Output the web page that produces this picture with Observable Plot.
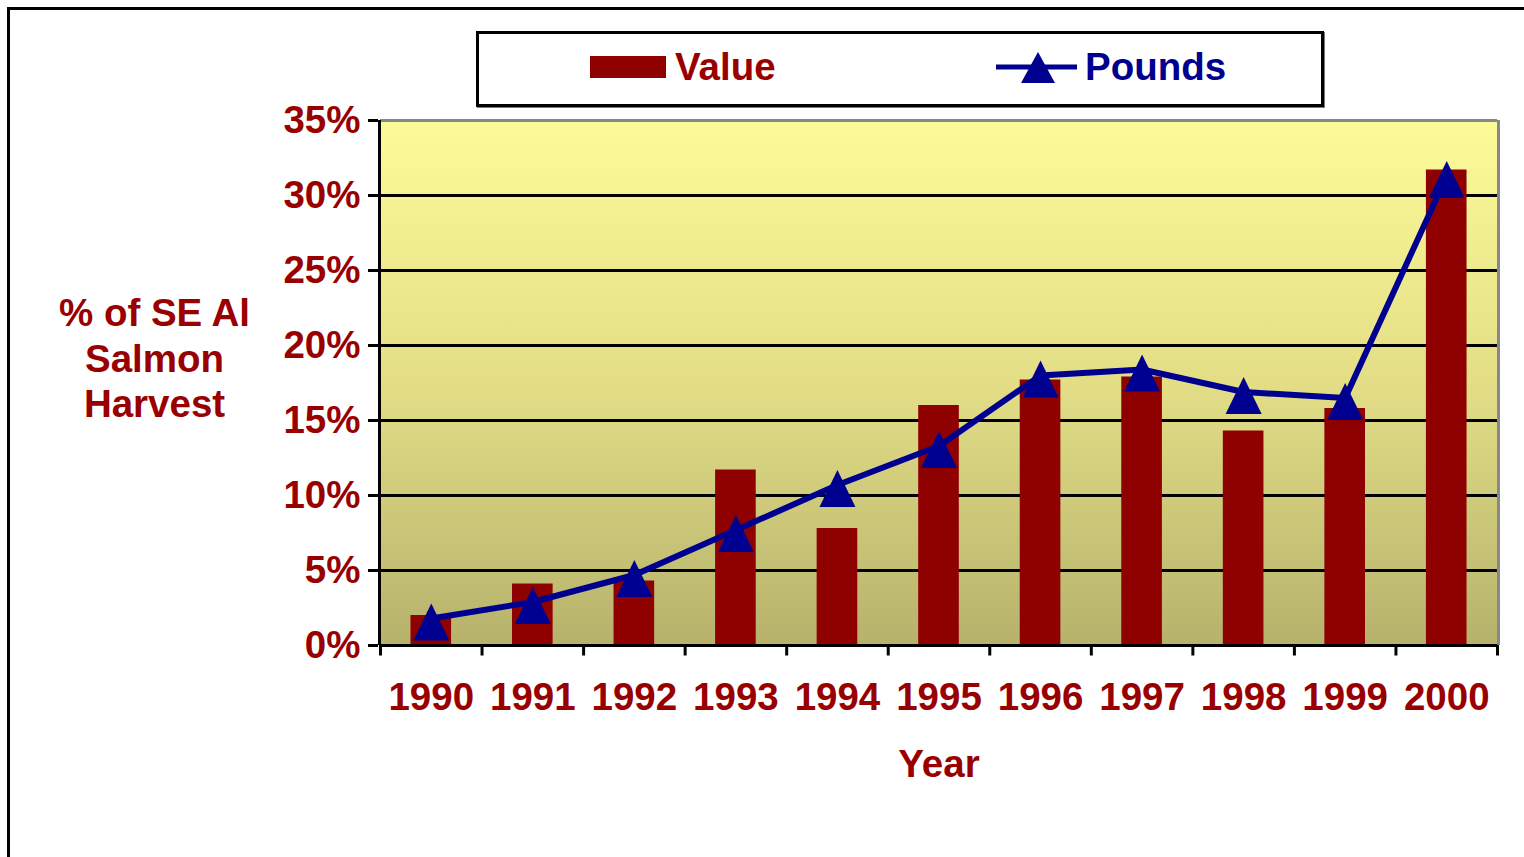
<!DOCTYPE html>
<html>
<head>
<meta charset="utf-8">
<script src="https://cdn.jsdelivr.net/npm/d3@7"></script>
<script src="https://cdn.jsdelivr.net/npm/@observablehq/plot@0.6"></script>
<style>
  html, body { margin: 0; padding: 0; background: #fff; overflow: hidden; }
  #page { position: relative; width: 1524px; height: 857px; overflow: hidden; font-family: "Liberation Sans", Arial, sans-serif; font-weight: bold; }
  #border { position: absolute; left: 7px; top: 7px; width: 1700px; height: 1000px; border: 3px solid #000; }
  #chart { position: absolute; left: 0; top: 0; }
  #legend { position: absolute; left: 476px; top: 31px; width: 842px; height: 70px; border: 3px solid #000; box-shadow: 1px 1px 0 #777; background: #fff; }
  #legend svg { position: absolute; left: 0; top: 0; }
</style>
</head>
<body>
<div id="page">
  <div id="border"></div>
  <div id="chart"></div>
  <div id="legend"></div>
</div>
<script>
// ---- data ----
const years = ["1990","1991","1992","1993","1994","1995","1996","1997","1998","1999","2000"];
const valuePct = [2.0, 4.1, 4.3, 11.7, 7.8, 16.0, 17.7, 17.9, 14.3, 15.8, 31.7];
const poundsPct = [1.8, 2.9, 4.7, 7.7, 10.7, 13.3, 18.0, 18.4, 16.9, 16.5, 31.3];
const yTicks = [0, 5, 10, 15, 20, 25, 30, 35];
const seriesNames = ["Value", "Pounds"];
const xTitle = "Year";
const yTitle = "% of SE Al\nSalmon\nHarvest";

const barColor = "#8F0000";
const lineColor = "#000090";
const textRed = "#990000";

const rows = years.map((y, i) => ({year: y, value: valuePct[i], pounds: poundsPct[i]}));

// custom triangle marker (Excel-like, point sits ~40% down from apex)
const tri = {
  draw(ctx, size) {
    ctx.moveTo(0, -15);
    ctx.lineTo(18, 22);
    ctx.lineTo(-18, 22);
    ctx.closePath();
  }
};

const W = 1524, H = 857;
const mL = 380, mR = 27, mT = 120, mB = 212;
const halfStep = (W - mL - mR) / years.length / 2;

const chart = Plot.plot({
  width: W, height: H,
  marginLeft: mL, marginRight: mR, marginTop: mT, marginBottom: mB,
  style: {background: "transparent", fontFamily: "'Liberation Sans', Arial, sans-serif", fontSize: "38.5px", fontWeight: "bold", overflow: "visible"},
  x: {domain: years, paddingInner: 0.6, paddingOuter: 0.3, round: false, label: null},
  y: {domain: [0, 35], label: null},
  marks: [
    Plot.frame({fill: "url(#bgGrad)", stroke: null}),
    Plot.ruleY(yTicks.filter(t => t > 0 && t < 35), {stroke: "#000", strokeWidth: 3}),
    Plot.ruleY([35], {stroke: "#888", strokeWidth: 3}),
    Plot.ruleX([years[years.length - 1]], {dx: halfStep + 1, y1: 0, y2: 35, stroke: "#888", strokeWidth: 3}),
    Plot.barY(rows, {x: "year", y: "value", fill: barColor}),
    Plot.line(rows, {x: "year", y: "pounds", stroke: lineColor, strokeWidth: 6}),
    Plot.dot(rows, {x: "year", y: "pounds", symbol: tri, r: 10, fill: lineColor, stroke: null}),
    Plot.ruleY([0], {stroke: "#000", strokeWidth: 3}),
    Plot.ruleX([years[0]], {dx: -halfStep - 1, y1: 0, y2: 35, stroke: "#000", strokeWidth: 3}),
    // x boundary ticks
    Plot.ruleX(years, {dx: -halfStep, y1: 0, y2: -0.7, stroke: "#000", strokeWidth: 3}),
    Plot.ruleX([years[years.length - 1]], {dx: halfStep, y1: 0, y2: -0.7, stroke: "#000", strokeWidth: 3}),
    Plot.axisY(yTicks, {tickSize: 10, tickPadding: 8, stroke: "#000", strokeWidth: 3, fill: textRed, tickFormat: d => d + "%", label: null, dx: -2}),
    Plot.axisX({tickSize: 0, tickPadding: 37, fill: textRed, label: null}),
    Plot.text([xTitle], {frameAnchor: "bottom", dy: 119, fill: textRed, lineAnchor: "middle"}),
    Plot.text([yTitle], {frameAnchor: "left", dx: -226, dy: -26, fill: textRed, textAnchor: "middle", lineAnchor: "middle", lineHeight: 1.18})
  ]
});

d3.select(chart).insert("defs", ":first-child").html(
  `<linearGradient id="bgGrad" x1="0" y1="0" x2="0" y2="1">
     <stop offset="0" stop-color="#FDFB98"/>
     <stop offset="0.5" stop-color="#E3DE86"/>
     <stop offset="1" stop-color="#B6B26C"/>
   </linearGradient>`);
document.getElementById("chart").appendChild(chart);

// ---- legend ----
const lg = d3.select("#legend").append("svg").attr("width", 842).attr("height", 70)
  .style("font-family", "'Liberation Sans', Arial, sans-serif").style("font-weight", "bold").style("font-size", "38.5px");
// offsets relative to legend box inner origin (479, 34)
lg.append("rect").attr("x", 590 - 479).attr("y", 56 - 34).attr("width", 76).attr("height", 22).attr("fill", barColor);
lg.append("text").attr("x", 675 - 479).attr("y", 66 - 34).attr("dy", "0.36em").attr("fill", textRed).text(seriesNames[0]);
lg.append("line").attr("x1", 996 - 479).attr("x2", 1077 - 479).attr("y1", 67 - 34).attr("y2", 67 - 34).attr("stroke", lineColor).attr("stroke-width", 5);
lg.append("path").attr("transform", `translate(${1038 - 479},${67 - 34})`).attr("d", "M0,-15L17,16L-17,16Z").attr("fill", lineColor);
lg.append("text").attr("x", 1085 - 479).attr("y", 66 - 34).attr("dy", "0.36em").attr("fill", lineColor).text(seriesNames[1]);
</script>
</body>
</html>
